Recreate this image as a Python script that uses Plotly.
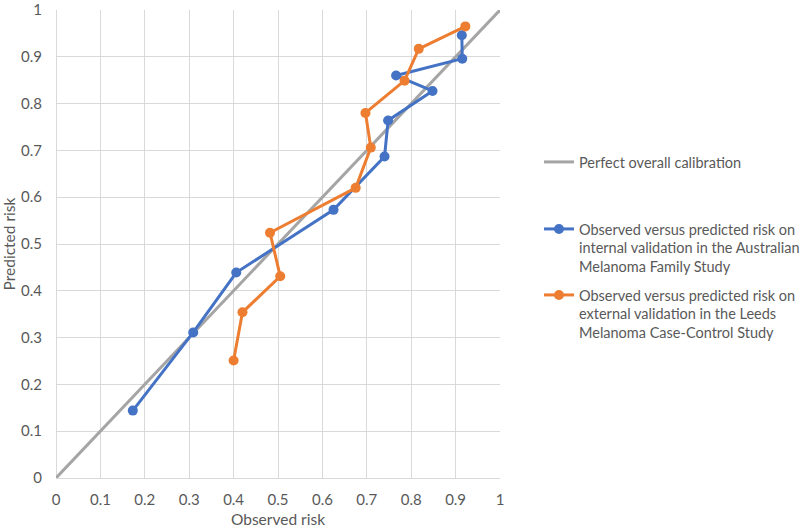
import plotly.graph_objects as go

# Data
diag_x = [0, 1]
diag_y = [0, 1]

amfs_observed = [0.173, 0.309, 0.406, 0.625, 0.740, 0.748, 0.848, 0.766, 0.915, 0.914]
amfs_predicted = [0.144, 0.311, 0.439, 0.573, 0.687, 0.764, 0.827, 0.860, 0.896, 0.946]

leeds_observed = [0.400, 0.420, 0.505, 0.482, 0.675, 0.709, 0.697, 0.785, 0.817, 0.922]
leeds_predicted = [0.251, 0.354, 0.431, 0.524, 0.620, 0.706, 0.780, 0.849, 0.917, 0.965]

tick_vals = [0, 0.1, 0.2, 0.3, 0.4, 0.5, 0.6, 0.7, 0.8, 0.9, 1]
tick_text = ["0", "0.1", "0.2", "0.3", "0.4", "0.5", "0.6", "0.7", "0.8", "0.9", "1"]

name_diag = "Perfect overall calibration"
name_amfs = "Observed versus predicted risk on<br>internal validation in the Australian<br>Melanoma Family Study"
name_leeds = "Observed versus predicted risk on<br>external validation in the Leeds<br>Melanoma Case-Control Study"

GRAY = "#A5A5A5"
BLUE = "#4472C4"
ORANGE = "#ED7D31"
TXT = "#595959"
FONT = "Lato"

fig = go.Figure()
fig.add_trace(go.Scatter(x=diag_x, y=diag_y, mode="lines", name=name_diag,
                         line=dict(color=GRAY, width=3), legend="legend"))
fig.add_trace(go.Scatter(x=amfs_observed, y=amfs_predicted, mode="lines+markers", name=name_amfs,
                         line=dict(color=BLUE, width=3), marker=dict(color=BLUE, size=10),
                         legend="legend2"))
fig.add_trace(go.Scatter(x=leeds_observed, y=leeds_predicted, mode="lines+markers", name=name_leeds,
                         line=dict(color=ORANGE, width=3), marker=dict(color=ORANGE, size=10),
                         legend="legend3"))

legend_common = dict(xref="container", yref="container", x=539/800, xanchor="left",
                     font=dict(family=FONT, size=14.5, color=TXT), bgcolor="rgba(0,0,0,0)",
                     valign="top", borderwidth=0)

axis_common = dict(tickmode="array", tickvals=tick_vals, ticktext=tick_text,
                   showgrid=True, gridcolor="#D9D9D9", gridwidth=1,
                   zeroline=True, zerolinecolor="#D9D9D9", zerolinewidth=1, showline=False,
                   ticks="outside", tickcolor="rgba(0,0,0,0)", ticklabeloverflow="allow",
                   automargin=False, tickfont=dict(family=FONT, size=15, color=TXT),
                   fixedrange=True)

fig.update_layout(
    width=800, height=528,
    margin=dict(l=56, r=300, t=10, b=50, autoexpand=False),
    paper_bgcolor="white", plot_bgcolor="white",
    font=dict(family=FONT, size=15, color=TXT),
    showlegend=True,
    legend=dict(**legend_common, y=1 - 162/528, yanchor="middle"),
    legend2=dict(**legend_common, y=1 - 213/528, yanchor="top"),
    legend3=dict(**legend_common, y=1 - 279/528, yanchor="top"),
    xaxis=dict(**axis_common, range=[0, 1], ticklen=8,
               title=dict(text="Observed risk", font=dict(family=FONT, size=15.5, color=TXT), standoff=9)),
    yaxis=dict(**axis_common, range=[0, 1], ticklen=10,
               title=dict(text="Predicted risk", font=dict(family=FONT, size=15.5, color=TXT), standoff=4)),
)

fig.write_html("out.html", config={"displayModeBar": False},
               post_script="document.body.style.margin='0';")
